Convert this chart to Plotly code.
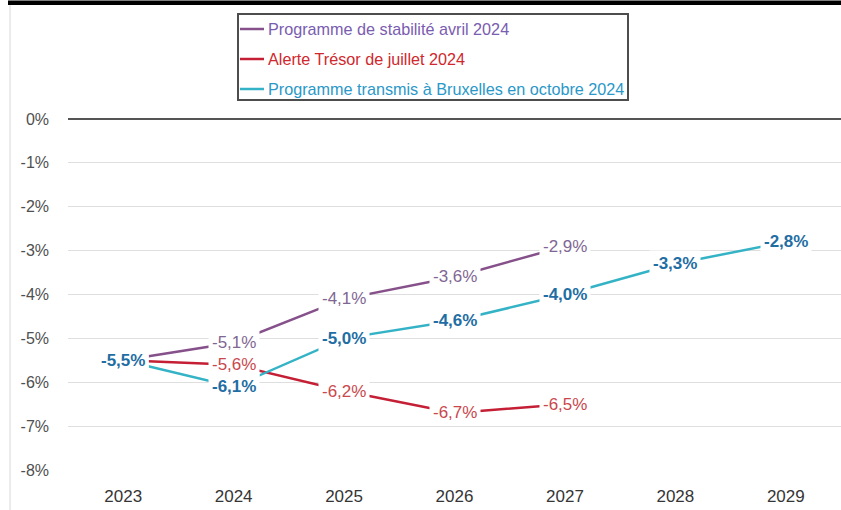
import plotly.graph_objects as go

# Public deficit trajectories (% of GDP)
years = [2023, 2024, 2025, 2026, 2027, 2028, 2029]

series_names = [
    "Programme de stabilité avril 2024",
    "Alerte Trésor de juillet 2024",
    "Programme transmis à Bruxelles en octobre 2024",
]
stabilite_avril = [-5.5, -5.1, -4.1, -3.6, -2.9]
alerte_tresor = [-5.5, -5.6, -6.2, -6.7, -6.5]
bruxelles_octobre = [-5.5, -6.1, -5.0, -4.6, -4.0, -3.3, -2.8]

y_tick_values = [0, -1, -2, -3, -4, -5, -6, -7, -8]
y_tick_labels = ["0%", "-1%", "-2%", "-3%", "-4%", "-5%", "-6%", "-7%", "-8%"]

series_values = [stabilite_avril, alerte_tresor, bruxelles_octobre]
line_colors = ["#86508a", "#c41f35", "#35b3c6"]
label_colors = ["#7f6793", "#c9474c", "#1f6ea3"]
legend_text_colors = ["#7a5cb0", "#d0282e", "#2a98c8"]
label_bold = [False, False, True]

W, H = 841, 510
M_L, M_R, M_T, M_B = 68, 0, 0, 40
PW, PH = W - M_L - M_R, H - M_T - M_B


def px_x(px):
    return (px - M_L) / PW


def px_y(py):
    return 1 - (py - M_T) / PH


def fmt(v):
    return f"{v:.1f}".replace(".", ",") + "%"


fig = go.Figure()

for name, vals, color in zip(series_names, series_values, line_colors):
    fig.add_trace(go.Scatter(
        x=years[:len(vals)], y=vals, mode="lines", name=name,
        line=dict(color=color, width=2.5), hoverinfo="skip", showlegend=False,
    ))

annotations = []
for vals, color, bold in zip(series_values, label_colors, label_bold):
    for yr, v in zip(years, vals):
        txt = fmt(v)
        if bold:
            txt = f"<b>{txt}</b>"
        annotations.append(dict(
            x=yr, y=v, xref="x", yref="y", text=txt, showarrow=False,
            font=dict(family="Liberation Sans, Arial, sans-serif", size=17, color=color),
            bgcolor="white", borderpad=3, xanchor="center", yanchor="middle",
        ))

# Legend box drawn in the upper part of the chart area
shapes = [
    dict(type="rect", xref="paper", yref="paper",
         x0=px_x(238), x1=px_x(628), y0=px_y(100), y1=px_y(14),
         line=dict(color="#4d4d4d", width=2), fillcolor="white", layer="above"),
    # top rule and left edge of the frame
    dict(type="rect", xref="paper", yref="paper",
         x0=px_x(8), x1=px_x(841), y0=px_y(5), y1=px_y(0.5),
         line=dict(width=0), fillcolor="black"),
    dict(type="line", xref="paper", yref="paper",
         x0=px_x(10), x1=px_x(10), y0=px_y(510), y1=px_y(5),
         line=dict(color="#d8d8d8", width=1)),
]
row_y = [29, 59, 89]
for name, lc, tc, ry in zip(series_names, line_colors, legend_text_colors, row_y):
    shapes.append(dict(type="line", xref="paper", yref="paper",
                       x0=px_x(240), x1=px_x(264), y0=px_y(ry), y1=px_y(ry),
                       line=dict(color=lc, width=2.5), layer="above"))
    annotations.append(dict(
        x=px_x(266), y=px_y(ry), xref="paper", yref="paper", text=name,
        showarrow=False, xanchor="left", yanchor="middle",
        font=dict(family="Liberation Sans, Arial, sans-serif", size=16.2, color=tc),
    ))

px_per_unit = (470 - 119) / 8
y_top = (119 - M_T) / px_per_unit

fig.update_layout(
    width=W, height=H,
    margin=dict(l=M_L, r=M_R, t=M_T, b=M_B),
    paper_bgcolor="white", plot_bgcolor="white",
    showlegend=False,
    annotations=annotations, shapes=shapes,
    xaxis=dict(
        range=[2022.5, 2029.5], tickvals=years, ticktext=[str(y) for y in years],
        showgrid=False, zeroline=False, showline=False, ticks="",
        tickfont=dict(family="Liberation Sans, Arial, sans-serif", size=17, color="#353535"),
        ticklabelstandoff=14, fixedrange=True,
    ),
    yaxis=dict(
        range=[-8, y_top], tickvals=y_tick_values, ticktext=y_tick_labels,
        showgrid=True, gridcolor="#dedede", gridwidth=1,
        zeroline=True, zerolinecolor="#555555", zerolinewidth=2,
        showline=False, ticks="",
        tickfont=dict(family="Liberation Sans, Arial, sans-serif", size=16, color="#505050"),
        ticklabelstandoff=18, fixedrange=True,
    ),
)

fig.write_html("out.html")
